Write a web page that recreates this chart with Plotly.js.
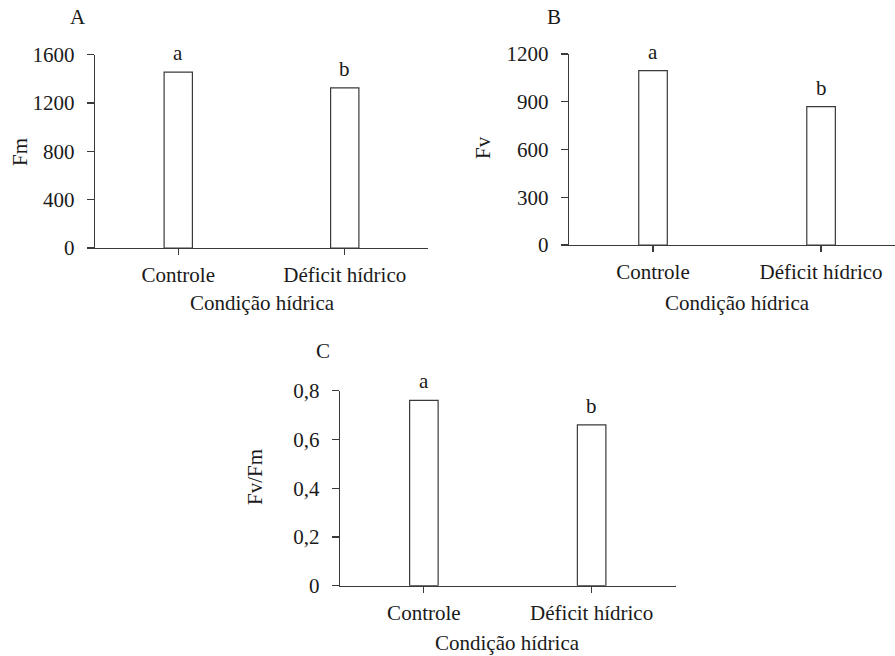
<!DOCTYPE html>
<html>
<head>
<meta charset="utf-8">
<script src="https://cdn.plot.ly/plotly-3.0.1.min.js"></script>
<style>html,body{margin:0;padding:0;background:#fff;}#chart{width:895px;height:656px;}</style>
</head>
<body>
<div id="chart"></div>
<script>
// ---- data ----
const categories = ["Controle", "Déficit hídrico"];
const fmValues = [1455, 1325];
const fvValues = [1095, 870];
const fvfmValues = [0.76, 0.66];
const fmLetters = ["a", "b"];
const fvLetters = ["a", "b"];
const fvfmLetters = ["a", "b"];
const fmTicks = [0, 400, 800, 1200, 1600];
const fvTicks = [0, 300, 600, 900, 1200];
const fvfmTicks = [0, 0.2, 0.4, 0.6, 0.8];
const fvfmTickText = ["0", "0,2", "0,4", "0,6", "0,8"];
const panelLabels = ["A", "B", "C"];
const yTitles = ["Fm", "Fv", "Fv/Fm"];
const xTitle = "Condição hídrica";

// ---- layout helpers ----
const W = 895, H = 656;
const px = v => v / W;
const py = v => 1 - v / H;
const FONT = "Liberation Serif";
const LINE = "#3a3a3a";
const TXT = "#1a1a1a";
const FS = 21;

function bar(y, xa, ya) {
  return {
    type: "bar", x: categories, y: y, xaxis: xa, yaxis: ya,
    width: 0.17,
    marker: {color: "#ffffff", line: {color: LINE, width: 1.2}},
    hoverinfo: "skip", showlegend: false
  };
}

const data = [
  bar(fmValues, "x", "y"),
  bar(fvValues, "x2", "y2"),
  bar(fvfmValues, "x3", "y3")
];

function xAxis(domain, range) {
  return {
    domain: domain, range: range, type: "category",
    showline: true, linecolor: LINE, linewidth: 1.2,
    ticks: "outside", ticklen: 6, tickcolor: LINE, tickwidth: 1.2,
    ticklabelstandoff: 2,
    showgrid: false, zeroline: false, fixedrange: true,
    tickfont: {family: FONT, size: FS, color: TXT}
  };
}
function yAxis(domain, range, tickvals, ticktext, anchor) {
  return {
    domain: domain, range: range, anchor: anchor,
    tickvals: tickvals, ticktext: ticktext,
    showline: true, linecolor: LINE, linewidth: 1.2,
    ticks: "outside", ticklen: 7, tickcolor: LINE, tickwidth: 1.2,
    ticklabelstandoff: 8,
    showgrid: false, zeroline: false, fixedrange: true,
    tickfont: {family: FONT, size: FS, color: TXT}
  };
}

const layout = {
  width: W, height: H,
  font: {family: FONT, size: FS, color: TXT},
  margin: {l: 0, r: 0, t: 0, b: 0},
  paper_bgcolor: "#ffffff", plot_bgcolor: "rgba(0,0,0,0)",
  showlegend: false,
  bargap: 0,
  xaxis: Object.assign(xAxis([px(95), px(428)], [-0.5, 1.5]), {anchor: "y"}),
  yaxis: yAxis([py(248), py(54.7)], [0, 1600], fmTicks, fmTicks.map(String), "x"),
  xaxis2: Object.assign(xAxis([px(569), 1], [-0.5, 1.44]), {anchor: "y2"}),
  yaxis2: yAxis([py(245), py(54)], [0, 1200], fvTicks, fvTicks.map(String), "x2"),
  xaxis3: Object.assign(xAxis([px(340), px(675.5)], [-0.5, 1.5]), {anchor: "y3"}),
  yaxis3: yAxis([py(585.7), py(390.7)], [0, 0.8], fvfmTicks, fvfmTickText, "x3"),
  annotations: [],
  shapes: []
};

function letters(vals, lets, xr, yr) {
  vals.forEach((v, i) => {
    layout.annotations.push({
      x: categories[i], y: v, xref: xr, yref: yr,
      text: lets[i], showarrow: false, yanchor: "middle", yshift: 19,
      font: {family: FONT, size: FS, color: TXT}
    });
  });
}
letters(fmValues, fmLetters, "x", "y");
letters(fvValues, fvLetters, "x2", "y2");
letters(fvfmValues, fvfmLetters, "x3", "y3");

function paperText(text, x, y, angle) {
  layout.annotations.push({
    x: px(x), y: py(y), xref: "paper", yref: "paper",
    text: text, showarrow: false, xanchor: "center", yanchor: "middle",
    textangle: angle || 0,
    font: {family: FONT, size: FS, color: TXT}
  });
}
// panel labels
paperText(panelLabels[0], 78, 17);
paperText(panelLabels[1], 554, 17);
paperText(panelLabels[2], 323, 351);
// y titles
paperText(yTitles[0], 20, 152, -90);
paperText(yTitles[1], 483, 148, -90);
paperText(yTitles[2], 255, 477, -90);
// x titles
paperText(xTitle, 262, 303);
paperText(xTitle, 737, 303);
paperText(xTitle, 507, 643);

// right-end ticks of x axes
[["x", "y"], ["x3", "y3"]].forEach(([xr, yr]) => {
  layout.shapes.push({
    type: "line", xref: xr + " domain", yref: yr, ysizemode: "pixel", yanchor: 0,
    x0: 1, x1: 1, y0: 0, y1: -6,
    line: {color: LINE, width: 1.2}
  });
});

Plotly.newPlot("chart", data, layout, {staticPlot: true, displayModeBar: false});
</script>
</body>
</html>
